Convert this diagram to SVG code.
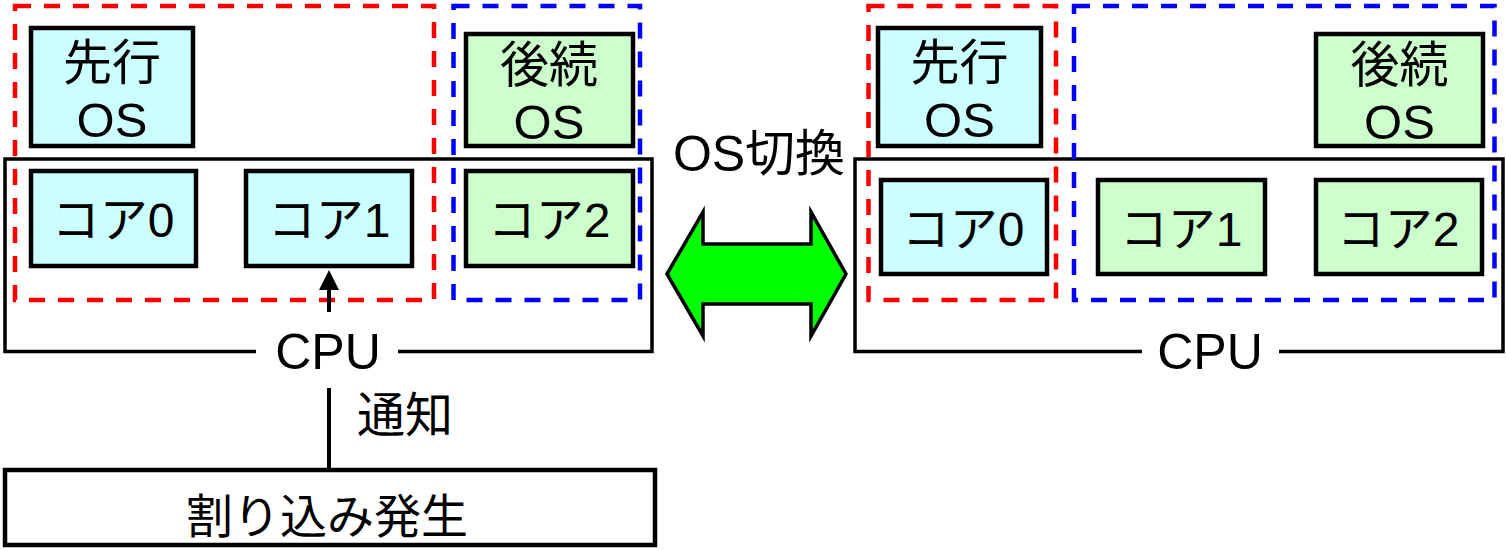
<svg xmlns="http://www.w3.org/2000/svg" width="1506" height="550" viewBox="0 0 1506 550">
<style>
  text { font-family: "Liberation Sans", "Noto Sans CJK JP", sans-serif; fill: #000; text-anchor: middle; }
  .box { stroke: #000; stroke-width: 4.5; }
  .pre { fill: #ccffff; }
  .post { fill: #ccffcc; }
  .cpu { fill: none; stroke: #000; stroke-width: 3.5; }
  .red { fill: none; stroke: #ff0000; stroke-width: 4.5; stroke-dasharray: 16 13; }
  .blue { fill: none; stroke: #0000ff; stroke-width: 4.5; stroke-dasharray: 16 13; }
  .os { font-size: 49px; }
  .core { font-size: 48px; }
  .lbl { font-size: 50px; }
  .bg { fill: #fff; }
</style>
<defs>
  <marker id="ah" viewBox="0 0 20 20" markerWidth="20" markerHeight="20" refX="0" refY="10" orient="auto" markerUnits="userSpaceOnUse">
    <path d="M0,0 L20,10 L0,20 z" fill="#000"/>
  </marker>
</defs>

<!-- CPU boxes -->
<g id="cpu-left"><rect class="cpu" x="5" y="159" width="647" height="192.5"/></g>
<g id="cpu-right"><rect class="cpu" x="855" y="159" width="648" height="192.5"/></g>

<!-- OS domains -->
<g id="domain-left-pre"><rect class="red" x="15" y="6" width="419" height="294"/></g>
<g id="domain-left-post"><rect class="blue" x="453.5" y="6" width="186.5" height="294"/></g>
<g id="domain-right-pre"><rect class="red" x="868.5" y="6" width="187.5" height="294"/></g>
<g id="domain-right-post"><rect class="blue" x="1074" y="6" width="420.5" height="294"/></g>

<!-- connectors -->
<g id="connectors">
  <line x1="329" y1="468" x2="329" y2="290" stroke="#000" stroke-width="4" marker-end="url(#ah)"/>
  <polygon points="667,274 703,212 703,244 811,244 811,212 846,274 811,336 811,304 703,304 703,336" fill="#00ff00" stroke="#000" stroke-width="3.5" stroke-linejoin="miter"/>
</g>

<!-- left panel nodes -->
<g id="os-pre-left">
  <rect class="box pre" x="31" y="28" width="162" height="118"/>
  <text class="os" x="112" y="80">先行</text>
  <text class="os" x="112" y="137">OS</text>
</g>
<g id="os-post-left">
  <rect class="box post" x="466" y="34" width="167" height="112"/>
  <text class="os" x="549" y="82">後続</text>
  <text class="os" x="549" y="139">OS</text>
</g>
<g id="core0-left">
  <rect class="box pre" x="31" y="171" width="165" height="95"/>
  <text class="core" x="113" y="237">コア0</text>
</g>
<g id="core1-left">
  <rect class="box pre" x="246" y="171" width="166" height="95"/>
  <text class="core" x="329" y="237">コア1</text>
</g>
<g id="core2-left">
  <rect class="box post" x="466" y="171" width="167" height="95"/>
  <text class="core" x="549" y="237">コア2</text>
</g>
<g id="cpu-label-left">
  <rect class="bg" x="256" y="312" width="142" height="76"/>
  <text class="lbl" x="328" y="369">CPU</text>
</g>

<!-- right panel nodes -->
<g id="os-pre-right">
  <rect class="box pre" x="878" y="28" width="163" height="118"/>
  <text class="os" x="959.5" y="80">先行</text>
  <text class="os" x="959.5" y="137">OS</text>
</g>
<g id="os-post-right">
  <rect class="box post" x="1316" y="34" width="167" height="112"/>
  <text class="os" x="1399.5" y="82">後続</text>
  <text class="os" x="1399.5" y="139">OS</text>
</g>
<g id="core0-right">
  <rect class="box pre" x="881" y="180" width="166" height="94"/>
  <text class="core" x="963" y="246">コア0</text>
</g>
<g id="core1-right">
  <rect class="box post" x="1098" y="180" width="167" height="94"/>
  <text class="core" x="1181" y="246">コア1</text>
</g>
<g id="core2-right">
  <rect class="box post" x="1316" y="180" width="166" height="94"/>
  <text class="core" x="1398" y="246">コア2</text>
</g>
<g id="cpu-label-right">
  <rect class="bg" x="1142" y="328" width="137" height="48"/>
  <text class="lbl" x="1210" y="369">CPU</text>
</g>

<!-- switch label -->
<g id="switch-label">
  <text style="font-size:50px" x="759" y="171">OS切換</text>
</g>

<!-- notify label -->
<g id="notify-label">
  <text style="font-size:48px;text-anchor:start" x="357" y="432">通知</text>
</g>

<!-- interrupt -->
<g id="interrupt">
  <rect class="box" fill="#fff" x="5" y="470" width="650" height="75"/>
  <text style="font-size:47px" x="327" y="533">割り込み発生</text>
</g>
</svg>
